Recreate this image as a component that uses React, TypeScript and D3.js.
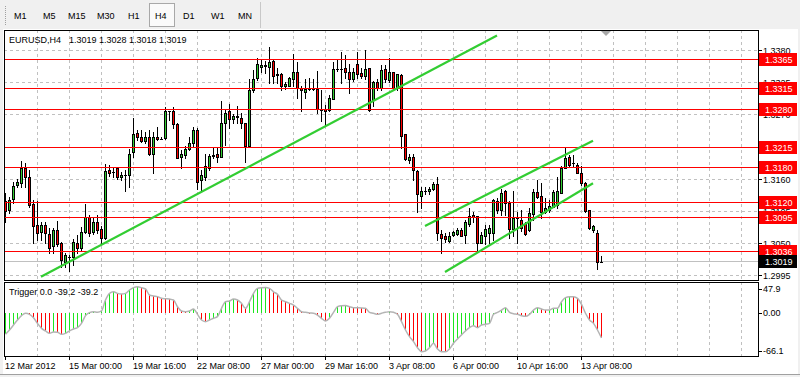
import React from 'react';
import * as d3 from 'd3';

const symbol = 'EURUSD';
const timeframe = 'H4';
const timeframes = ['M1', 'M5', 'M15', 'M30', 'H1', 'H4', 'D1', 'W1', 'MN'];
const timeframeX = [14, 43, 68, 97, 128, 155, 183, 211, 238];

const opens = [
  1.3122, 1.3108, 1.3126, 1.3150, 1.3154, 1.3180, 1.3164, 1.3117, 1.3082, 1.3070,
  1.3082, 1.3066, 1.3045, 1.3073, 1.3050, 1.3019, 1.3026, 1.3026, 1.3051, 1.3042,
  1.3070, 1.3096, 1.3070, 1.3086, 1.3075, 1.3060, 1.3175, 1.3173, 1.3180, 1.3163,
  1.3168, 1.3167, 1.3206, 1.3239, 1.3233, 1.3226, 1.3232, 1.3203, 1.3233, 1.3229,
  1.3230, 1.3276, 1.3276, 1.3255, 1.3198, 1.3202, 1.3211, 1.3222, 1.3244, 1.3159,
  1.3164, 1.3180, 1.3199, 1.3203, 1.3198, 1.3256, 1.3276, 1.3263, 1.3266, 1.3264,
  1.3256, 1.3216, 1.3313, 1.3333, 1.3353, 1.3354, 1.3353, 1.3362, 1.3341, 1.3340,
  1.3319, 1.3320, 1.3332, 1.3343, 1.3316, 1.3310, 1.3314, 1.3314, 1.3314, 1.3278,
  1.3281, 1.3279, 1.3297, 1.3349, 1.3349, 1.3350, 1.3344, 1.3331, 1.3357, 1.3342,
  1.3337, 1.3350, 1.3295, 1.3326, 1.3316, 1.3348, 1.3330, 1.3343, 1.3316, 1.3339,
  1.3237, 1.3193, 1.3198, 1.3174, 1.3132, 1.3140, 1.3139, 1.3143, 1.3152, 1.3066,
  1.3062, 1.3055, 1.3065, 1.3066, 1.3073, 1.3065, 1.3084, 1.3098, 1.3097, 1.3050,
  1.3063, 1.3067, 1.3067, 1.3123, 1.3108, 1.3139, 1.3120, 1.3074, 1.3093, 1.3090,
  1.3083, 1.3073, 1.3100, 1.3138, 1.3131, 1.3104, 1.3107, 1.3113, 1.3116, 1.3137,
  1.3179, 1.3198, 1.3187, 1.3185, 1.3171, 1.3154, 1.3107, 1.3073, 1.3067, 1.3019,
];
const highs = [
  1.3136, 1.3130, 1.3156, 1.3160, 1.3192, 1.3187, 1.3176, 1.3124, 1.3123, 1.3086,
  1.3087, 1.3076, 1.3076, 1.3089, 1.3053, 1.3033, 1.3030, 1.3057, 1.3064, 1.3078,
  1.3118, 1.3098, 1.3096, 1.3099, 1.3079, 1.3186, 1.3184, 1.3179, 1.3180, 1.3173,
  1.3176, 1.3211, 1.3265, 1.3244, 1.3244, 1.3241, 1.3245, 1.3241, 1.3250, 1.3233,
  1.3283, 1.3277, 1.3284, 1.3256, 1.3210, 1.3217, 1.3232, 1.3249, 1.3247, 1.3176,
  1.3203, 1.3204, 1.3213, 1.3213, 1.3294, 1.3279, 1.3289, 1.3272, 1.3285, 1.3274,
  1.3256, 1.3331, 1.3347, 1.3367, 1.3364, 1.3363, 1.3387, 1.3364, 1.3350, 1.3342,
  1.3327, 1.3335, 1.3374, 1.3360, 1.3319, 1.3331, 1.3333, 1.3331, 1.3345, 1.3313,
  1.3287, 1.3304, 1.3361, 1.3364, 1.3377, 1.3373, 1.3358, 1.3351, 1.3377, 1.3350,
  1.3382, 1.3351, 1.3329, 1.3332, 1.3356, 1.3356, 1.3367, 1.3344, 1.3341, 1.3341,
  1.3237, 1.3204, 1.3203, 1.3175, 1.3146, 1.3146, 1.3147, 1.3156, 1.3164, 1.3073,
  1.3067, 1.3069, 1.3072, 1.3076, 1.3076, 1.3090, 1.3110, 1.3104, 1.3097, 1.3070,
  1.3082, 1.3082, 1.3126, 1.3127, 1.3144, 1.3142, 1.3122, 1.3139, 1.3104, 1.3107,
  1.3087, 1.3110, 1.3144, 1.3159, 1.3154, 1.3127, 1.3124, 1.3142, 1.3164, 1.3182,
  1.3213, 1.3202, 1.3202, 1.3187, 1.3182, 1.3156, 1.3107, 1.3082, 1.3073, 1.3028,
];
const lows = [
  1.3087, 1.3102, 1.3119, 1.3146, 1.3147, 1.3147, 1.3113, 1.3050, 1.3056, 1.3056,
  1.3051, 1.3033, 1.3033, 1.3045, 1.3010, 1.3010, 1.3002, 1.3013, 1.3034, 1.3038,
  1.3067, 1.3062, 1.3066, 1.3067, 1.3049, 1.3058, 1.3166, 1.3164, 1.3161, 1.3159,
  1.3140, 1.3147, 1.3198, 1.3227, 1.3224, 1.3222, 1.3202, 1.3171, 1.3227, 1.3228,
  1.3228, 1.3261, 1.3248, 1.3196, 1.3179, 1.3196, 1.3210, 1.3217, 1.3143, 1.3140,
  1.3158, 1.3175, 1.3196, 1.3190, 1.3198, 1.3219, 1.3247, 1.3256, 1.3257, 1.3247,
  1.3190, 1.3216, 1.3310, 1.3330, 1.3344, 1.3342, 1.3325, 1.3324, 1.3325, 1.3313,
  1.3314, 1.3319, 1.3319, 1.3299, 1.3277, 1.3299, 1.3313, 1.3312, 1.3273, 1.3259,
  1.3253, 1.3277, 1.3297, 1.3345, 1.3324, 1.3333, 1.3308, 1.3329, 1.3333, 1.3333,
  1.3331, 1.3277, 1.3285, 1.3312, 1.3313, 1.3327, 1.3326, 1.3314, 1.3313, 1.3213,
  1.3193, 1.3188, 1.3159, 1.3104, 1.3110, 1.3134, 1.3135, 1.3142, 1.3056, 1.3033,
  1.3053, 1.3053, 1.3062, 1.3065, 1.3062, 1.3050, 1.3079, 1.3087, 1.3038, 1.3050,
  1.3049, 1.3050, 1.3056, 1.3102, 1.3099, 1.3099, 1.3059, 1.3062, 1.3051, 1.3072,
  1.3064, 1.3071, 1.3090, 1.3127, 1.3093, 1.3102, 1.3103, 1.3112, 1.3110, 1.3136,
  1.3179, 1.3182, 1.3182, 1.3170, 1.3150, 1.3103, 1.3074, 1.3070, 1.3007, 1.3018,
];
const closes = [
  1.3106, 1.3124, 1.3148, 1.3156, 1.3180, 1.3163, 1.3116, 1.3079, 1.3068, 1.3082,
  1.3067, 1.3043, 1.3073, 1.3049, 1.3021, 1.3030, 1.3026, 1.3053, 1.3042, 1.3069,
  1.3096, 1.3067, 1.3087, 1.3073, 1.3060, 1.3174, 1.3170, 1.3173, 1.3164, 1.3167,
  1.3168, 1.3204, 1.3237, 1.3233, 1.3225, 1.3232, 1.3203, 1.3232, 1.3228, 1.3229,
  1.3277, 1.3276, 1.3254, 1.3197, 1.3203, 1.3212, 1.3222, 1.3244, 1.3156, 1.3167,
  1.3182, 1.3199, 1.3202, 1.3198, 1.3257, 1.3273, 1.3263, 1.3269, 1.3268, 1.3256,
  1.3216, 1.3313, 1.3331, 1.3357, 1.3356, 1.3356, 1.3361, 1.3336, 1.3338, 1.3319,
  1.3323, 1.3333, 1.3343, 1.3316, 1.3312, 1.3314, 1.3314, 1.3314, 1.3280, 1.3279,
  1.3276, 1.3299, 1.3348, 1.3349, 1.3349, 1.3344, 1.3331, 1.3344, 1.3340, 1.3336,
  1.3349, 1.3279, 1.3326, 1.3316, 1.3347, 1.3331, 1.3343, 1.3316, 1.3340, 1.3234,
  1.3194, 1.3198, 1.3175, 1.3134, 1.3140, 1.3140, 1.3143, 1.3152, 1.3067, 1.3060,
  1.3057, 1.3063, 1.3069, 1.3073, 1.3062, 1.3086, 1.3097, 1.3096, 1.3050, 1.3065,
  1.3075, 1.3077, 1.3124, 1.3108, 1.3136, 1.3120, 1.3074, 1.3093, 1.3093, 1.3076,
  1.3066, 1.3102, 1.3138, 1.3130, 1.3104, 1.3110, 1.3114, 1.3138, 1.3140, 1.3179,
  1.3196, 1.3184, 1.3187, 1.3171, 1.3153, 1.3106, 1.3076, 1.3080, 1.3019, 1.3019,
];

const trigger = [
  -33.4, -26.5, -18.6, -10.7, -3.8, 0, -1.7, -7, -16, -23.9,
  -28, -31.8, -29.5, -30, -33.4, -31.8, -28, -25, -22.8, -16,
  -3.8, 1, 2.5, 1.5, 3.6, 21, 31.5, 34, 31.5, 30.5,
  31.5, 36.8, 40.5, 42, 40.5, 38.4, 28.9, 27.3, 26.3, 23.6,
  23, 22.5, 21, 10.4, 3.6, 2.5, 3.6, 6.7, -1.7, -10.7,
  -13.3, -10.7, -8, -5.4, 7.8, 18.3, 19.4, 22.6, 21, 15.7,
  7.8, 18.3, 31.5, 39.4, 40.5, 40.8, 39.4, 34, 30, 21,
  18.3, 15.7, 13, 7.8, 2.5, 1.5, 0.4, 0, -2.8, -8,
  -12.3, -8, 1.5, 10.4, 12, 12.2, 10.4, 8.8, 8.6, 8.4,
  7.8, 1.5, 0, -1.7, 0, 1.5, 2.5, 1.5, -1.7, -13.3,
  -26.5, -37, -45, -54.6, -60.8, -59.8, -54.6, -47.6, -56.6, -60.8,
  -61, -56.6, -47.6, -40.8, -34.4, -28, -22.8, -19.7, -22.8, -18.6,
  -17.5, -16, -1.7, 1.4, 5, 8.8, 1.4, -0.7, -1.7, -3.8,
  -4.9, -1.7, 5, 8.8, 6.7, 5, 5.2, 7.8, 7.9, 18.3,
  24.7, 26.3, 26.2, 23.6, 14.1, 0, -10.7, -16, -26.5, -39.2,
];
const triggerRange = [47.9, -66.1];
const triggerLabels = ['47.9', '0.00', '-66.1'];
const triggerLabelValues = [39, 0, -60];

const priceTicks = [1.3380, 1.3325, 1.3270, 1.3215, 1.3160, 1.3105, 1.3050, 1.2995];
const levels = [1.3365, 1.3315, 1.3280, 1.3215, 1.3180, 1.3120, 1.3095, 1.3036];
const bid = 1.3019;

const timeLabels = [
  '12 Mar 2012', '15 Mar 00:00', '19 Mar 16:00', '22 Mar 08:00', '27 Mar 00:00',
  '29 Mar 16:00', '3 Apr 08:00', '6 Apr 00:00', '10 Apr 16:00', '13 Apr 08:00',
];
const timeLabelBars = [0, 16, 32, 48, 64, 80, 96, 112, 128, 144];

// trend lines: [bar1, price1, bar2, price2]
const trendLines = [
  [9, 1.2993, 123, 1.3406],
  [105, 1.3080, 147, 1.3226],
  [110, 1.3001, 147, 1.3153],
];

const FONT = "'Liberation Sans', Arial, sans-serif";
const BULL = '#32cd32';
const BEAR = '#ff0000';
const TREND = '#32cd32';

export default function App() {
  const W = 800;
  const H = 377;
  const left = 4;
  const right = 758;
  const top = 30;
  const mainBottom = 280;
  const subTop = 282;
  const subBottom = 356;

  const x = d3.scaleLinear().domain([0, 149]).range([5, 601]);
  const y = d3.scaleLinear().domain([1.3365, 1.3036]).range([59.5, 251.6]);
  const ty = d3.scaleLinear().domain(triggerRange).range([283, 355]);
  const py = (p: number) => Math.floor(y(p)) + 0.5;

  const gridBars = d3.range(8, 189, 8);

  const candles = opens.map((o, i) => {
    const h = highs[i], l = lows[i], c = closes[i];
    const cx = Math.round(x(i));
    const yo = Math.round(y(o)), yc = Math.round(y(c));
    const yh = Math.round(y(h)), yl = Math.round(y(l));
    const t = Math.min(yo, yc), b = Math.max(yo, yc);
    const col = c >= o ? BULL : BEAR;
    return (
      <g key={i}>
        <rect x={cx} y={yh} width={1} height={yl - yh + 1} fill="#000" />
        <rect x={cx - 1} y={t} width={3} height={Math.max(1, b - t + 1)} fill="#000" />
        {b - t >= 2 && <rect x={cx} y={t + 1} width={1} height={b - t - 1} fill={col} />}
      </g>
    );
  });

  const zeroY = Math.round(ty(0));
  const hist = trigger.map((v, i) => {
    const cx = Math.round(x(i));
    const up = i === 0 ? true : v >= trigger[i - 1];
    const yv = Math.round(ty(v));
    return (
      <rect key={i} x={cx} y={Math.min(zeroY, yv)} width={1} height={Math.max(1, Math.abs(yv - zeroY))}
        fill={up ? '#1ee61e' : '#ff0000'} shapeRendering="crispEdges" />
    );
  });
  const trigLine = d3.line<number>().x((_, i) => x(i) + 0.5).y((v) => ty(v)).curve(d3.curveMonotoneX)(trigger) || '';

  const last = opens.length - 1;
  const legend = [opens[last], highs[last], lows[last], closes[last]].map((v) => v.toFixed(4)).join(' ');

  return (
    <div style={{ position: 'absolute', left: 0, top: 0 }}>
      <svg width={W} height={H} style={{ display: 'block', fontFamily: FONT }}>
        <rect x={0} y={0} width={W} height={H} fill="#f0f0f0" />
        {/* toolbar */}
        {d3.range(6, 25, 2).map((yy) => (
          <rect key={yy} x={5} y={yy} width={1} height={1} fill="#a0a0a0" />
        ))}
        <rect x={149.5} y={3.5} width={25} height={23} fill="#fafafa" stroke="#a8a8a8" />
        <line x1={260.5} x2={260.5} y1={2} y2={28} stroke="#c8c8c8" />
        {timeframes.map((t, i) => (
          <text key={t} x={timeframeX[i]} y={19} fontSize={9} fill="#000">{t}</text>
        ))}
        {/* chart window */}
        <rect x={3} y={29} width={795} height={345} fill="#fff" />
        {/* vertical grid */}
        {gridBars.map((b) => (
          <g key={b}>
            <line x1={x(b) + 0.5} x2={x(b) + 0.5} y1={top} y2={mainBottom} stroke="#c0c0c0" strokeDasharray="3,3" />
            <line x1={x(b) + 0.5} x2={x(b) + 0.5} y1={subTop} y2={subBottom} stroke="#c0c0c0" strokeDasharray="3,3" />
          </g>
        ))}
        {/* horizontal grid */}
        {priceTicks.map((p) => (
          <line key={p} x1={left} x2={right} y1={py(p)} y2={py(p)} stroke="#c0c0c0" strokeDasharray="3,3" />
        ))}
        {/* bid line */}
        <line x1={left} x2={right} y1={py(bid)} y2={py(bid)} stroke="#c0c0c0" />
        {/* candles */}
        {candles}
        {/* horizontal levels */}
        {levels.map((p) => (
          <line key={p} x1={left} x2={right} y1={py(p)} y2={py(p)} stroke="#ff0000" />
        ))}
        {/* trend lines */}
        {trendLines.map((t, i) => (
          <line key={i} x1={x(t[0])} y1={y(t[1])} x2={x(t[2])} y2={y(t[3])} stroke={TREND} strokeWidth={2.2} />
        ))}
        {/* chart shift marker */}
        <path d={`M${x(150) - 4},${top + 1}L${x(150) + 6},${top + 1}L${x(150) + 1},${top + 6}Z`} fill="#a8a8a8" />
        {/* legend */}
        <text x={9} y={43} fontSize={9} fill="#000">{`${symbol},${timeframe}`}</text>
        <text x={69} y={43} fontSize={9} fill="#000">{legend}</text>

        {/* sub window */}
        {hist}
        <path d={trigLine} fill="none" stroke="#b4b4b4" strokeWidth={1.5} />
        <text x={9} y={295} fontSize={9} fill="#000">{`Trigger 0.0 ${trigger[last].toFixed(1)} ${trigger[last].toFixed(1)}`}</text>

        {/* frames */}
        <rect x={left + 0.5} y={top + 0.5} width={right - left} height={mainBottom - top} fill="none" stroke="#000" />
        <rect x={left + 0.5} y={subTop + 0.5} width={right - left} height={subBottom - subTop} fill="none" stroke="#000" />

        {/* price axis */}
        {priceTicks.map((p) => (
          <g key={p}>
            <line x1={right} x2={right + 4} y1={py(p)} y2={py(p)} stroke="#000" />
            <text x={763} y={py(p)} dy="0.35em" fontSize={9} fill="#000">{p.toFixed(4)}</text>
          </g>
        ))}
        {levels.map((p) => (
          <g key={p}>
            <rect x={759} y={py(p) - 6.5} width={38} height={13} fill="#ff0000" />
            <text x={765} y={py(p)} dy="0.35em" fontSize={9} fill="#fff">{p.toFixed(4)}</text>
          </g>
        ))}
        <rect x={759} y={py(bid) - 6.5} width={38} height={13} fill="#000" />
        <text x={765} y={py(bid)} dy="0.35em" fontSize={9} fill="#fff">{bid.toFixed(4)}</text>

        {/* sub axis */}
        {triggerLabels.map((t, i) => (
          <g key={t}>
            <line x1={right} x2={right + 4} y1={Math.round(ty(triggerLabelValues[i])) + 0.5} y2={Math.round(ty(triggerLabelValues[i])) + 0.5} stroke="#000" />
            <text x={763} y={ty(triggerLabelValues[i])} dy="0.35em" fontSize={9} fill="#000">{t}</text>
          </g>
        ))}

        {/* time axis */}
        {timeLabels.map((t, i) => (
          <g key={t}>
            <line x1={x(timeLabelBars[i]) + 0.5} x2={x(timeLabelBars[i]) + 0.5} y1={subBottom} y2={subBottom + 4} stroke="#000" />
            <text x={x(timeLabelBars[i])} y={369} fontSize={9} fill="#000">{t}</text>
          </g>
        ))}
        <line x1={0} x2={W} y1={374.5} y2={374.5} stroke="#a0a0a0" />
      </svg>
    </div>
  );
}
